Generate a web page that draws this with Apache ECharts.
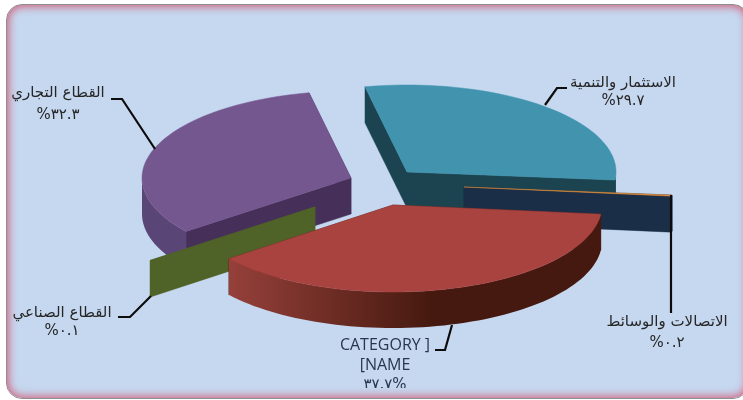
<!DOCTYPE html>
<html lang="ar">
<head>
<meta charset="utf-8">
<script src="https://cdn.jsdelivr.net/npm/echarts@6/dist/echarts.min.js"></script>
<style>
html,body{margin:0;padding:0;width:743px;height:400px;background:#fff;overflow:hidden}
#frame{position:absolute;left:6px;top:4px;width:743px;height:395px;box-sizing:border-box;border-radius:16px;background:#c5d8f0;overflow:hidden;border:1px solid #8f8f8f}
#chart{position:absolute;left:-7px;top:-5px;width:743px;height:400px}
#band{position:absolute;left:0;right:0;top:383px;height:11px;background:#c5d8f0}
#glow{position:absolute;inset:0;border-radius:15px;box-shadow:inset 0 0 10px 1px #d4506a;pointer-events:none}
</style>
</head>
<body>
<div id="frame"><div id="chart"></div><div id="band"></div><div id="glow"></div></div>
<script>
// Data, in slice order (clockwise)
const categories = ['الاستثمار والتنمية', 'الاتصالات والوسائط', 'CATEGORY ]\n[NAME', 'القطاع الصناعي', 'القطاع التجاري'];
const shares = [29.7, 0.2, 37.7, 0.1, 32.3];
const shareLabels = ['%٢٩.٧', '%٠.٢', '٣٧.٧%', '%٠.١', '%٣٢.٣'];

// Styling and layout of the drawing
const topColors = ['#4193ae', '#d98a3d', '#a8433f', '#4f6228', '#74578f'];
const sideColors = ['#1b4450', '#1a2e47', '#4a1c18', '#4f6228', '#46305a'];
const arcColors = [['#1b4450', '#1b4450'], ['#1a2e47', '#1a2e47'], ['#96403a', '#45190f'], ['#4f6228', '#4f6228'], ['#6d5589', '#5a4577']];
const explodeX = [23, 80, 9, -69, -33];
const explodeY = [-14, 1, 19, 21, -8];
const drawRank = [3, 4, 5, 2, 1];
const labelX = [623, 667, 385, 62, 58];
const labelY = [83, 322, 345, 313, 93];
const labelGap = [18, 21, 20, 18, 22];
const leaders = [
  [[567, 88], [557, 88], [545, 105]],
  [[671, 195], [671, 313]],
  [[435, 350], [445, 350], [452, 325]],
  [[118, 317], [130, 317], [151, 296]],
  [[111, 99], [122, 99], [155, 149]]
];
const CX = 384, CY = 186, RX = 209, RY = 87, DEPTH = 36, START = -101.6;

const total = shares.reduce((a, b) => a + b, 0);
function rimPoints(cx, cy, a0, a1) {
  const pts = [], n = Math.max(2, Math.ceil(Math.abs(a1 - a0) / 2));
  for (let i = 0; i <= n; i++) {
    const t = (a0 + (a1 - a0) * i / n) * Math.PI / 180;
    pts.push([cx + RX * Math.cos(t), cy + RY * Math.sin(t)]);
  }
  return pts;
}
const drop = p => [p[0], p[1] + DEPTH];

function renderSlice(params, api) {
  const i = params.dataIndex;
  let before = 0;
  for (let k = 0; k < i; k++) before += shares[k];
  const a0 = START + before / total * 360;
  const a1 = a0 + api.value(0) / total * 360;
  const cx = CX + explodeX[i], cy = CY + explodeY[i];
  const rank = drawRank[i] * 10;
  const rim = rimPoints(cx, cy, a0, a1);
  const apex = [cx, cy];
  const children = [];
  const poly = (pts, fill, z, stroke) => children.push({
    type: 'polygon', shape: { points: pts }, z2: z,
    style: { fill: fill, stroke: stroke || fill, lineWidth: stroke === 'none' ? 0 : 0.5 }
  });
  const first = rim[0], last = rim[rim.length - 1];
  poly([apex, first, drop(first), drop(apex)], sideColors[i], rank);
  poly([apex, last, drop(last), drop(apex)], sideColors[i], rank);
  // outer wall: only the part of the rim that faces the viewer
  const f0 = Math.max(a0, 0), f1 = Math.min(a1, 180);
  if (f1 > f0) {
    const front = rimPoints(cx, cy, f0, f1);
    const fill = new echarts.graphic.LinearGradient(1, 0, 0, 0, [
      { offset: 0, color: arcColors[i][1] },
      { offset: i === 2 ? 0.45 : 1, color: arcColors[i][1] },
      { offset: 1, color: arcColors[i][0] }
    ]);
    poly(front.concat(front.slice().reverse().map(drop)), fill, rank + 1, 'none');
  }
  poly([apex].concat(rim), topColors[i], rank + 2);
  // leader line and label
  children.push({
    type: 'polyline', shape: { points: leaders[i] }, z2: 100,
    style: { fill: 'none', stroke: '#0c0c0c', lineWidth: 2.2 }
  });
  const isLatin = i === 2;
  const nameLines = categories[i].split('\n');
  nameLines.concat(shareLabels[i]).forEach((txt, k) => {
    children.push({
      type: 'text', z2: 101,
      style: {
        text: txt, x: labelX[i], y: labelY[i] + k * labelGap[i],
        align: 'center', verticalAlign: 'middle',
        fill: isLatin ? '#2a3550' : '#262626',
        font: (isLatin && k < 2)
          ? '16px "Open Sans", sans-serif'
          : '15px "DejaVu Sans", sans-serif'
      }
    });
  });
  return { type: 'group', children: children };
}

const chart = echarts.init(document.getElementById('chart'), null, { renderer: 'canvas' });
chart.setOption({
  animation: false,
  backgroundColor: 'transparent',
  series: [{
    type: 'custom',
    coordinateSystem: 'none',
    renderItem: renderSlice,
    silent: true,
    data: shares.map((v, i) => [v, i])
  }]
});
</script>
</body>
</html>
